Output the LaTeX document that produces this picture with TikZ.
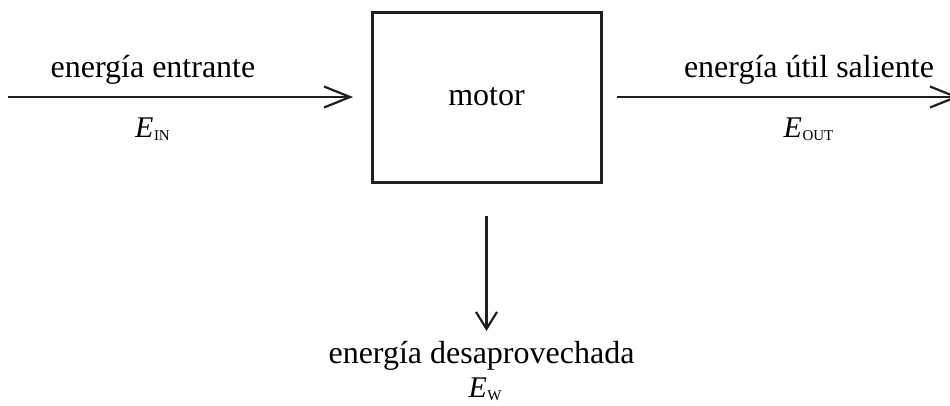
\documentclass[tikz,border=0pt]{standalone}
\usepackage{fontspec}
\setmainfont{Liberation Serif}
\usetikzlibrary{arrows.meta}
\newcommand{\symE}[1]{{\fontsize{30}{30}\selectfont\itshape E}\kern0.5pt\raisebox{-3.5pt}{\fontsize{15}{15}\selectfont #1}}
\tikzset{
  lbl/.style={font=\fontsize{32}{32}\selectfont, inner sep=0pt, anchor=base},
  sym/.style={inner sep=0pt, anchor=base},
  arr/.style={line width=2.2pt, draw=black!88,
    -{Straight Barb[length=26pt,width=21pt,line width=2.2pt]}},
  darr/.style={line width=2.2pt, draw=black!88,
    -{Straight Barb[length=17pt,width=21pt,line width=2.2pt]}},
  engine/.style={draw=black!88, line width=3pt, minimum width=229pt,
    minimum height=170pt, inner sep=0pt, outer sep=0pt,
    font=\fontsize{32}{32}\selectfont}
}
\begin{document}
\begin{tikzpicture}[x=1pt,y=-1pt]
  \clip (0,0) rectangle (950,405);
  \useasboundingbox (0,0) rectangle (950,405);

  % engine block
  \node[engine] (motor) at (486.5,97) {motor};

  % incoming energy
  \coordinate (insrc) at (8,97);
  \draw[arr, shorten >=19pt] (insrc) -- (motor.west);
  \node[lbl] (inlbl) at (153,77) {energía entrante};
  \node[sym] (ein) at (152.5,137) {\symE{IN}};

  % useful output energy
  \coordinate (outtip) at (959,97);
  \draw[arr, shorten <=16pt] (motor.east) -- (outtip);
  \node[lbl] (outlbl) at (809,77) {energía útil saliente};
  \node[sym] (eout) at (808.5,137) {\symE{OUT}};

  % wasted energy
  \node[lbl] (wastelbl) at (481.5,363) {energía desaprovechada};
  \node[sym] (ew) at (485,397) {\symE{W}};
  \coordinate (wastetip) at (486.5,331);
  \draw[darr, shorten <=34pt] (motor.south) -- (wastetip);
\end{tikzpicture}
\end{document}
